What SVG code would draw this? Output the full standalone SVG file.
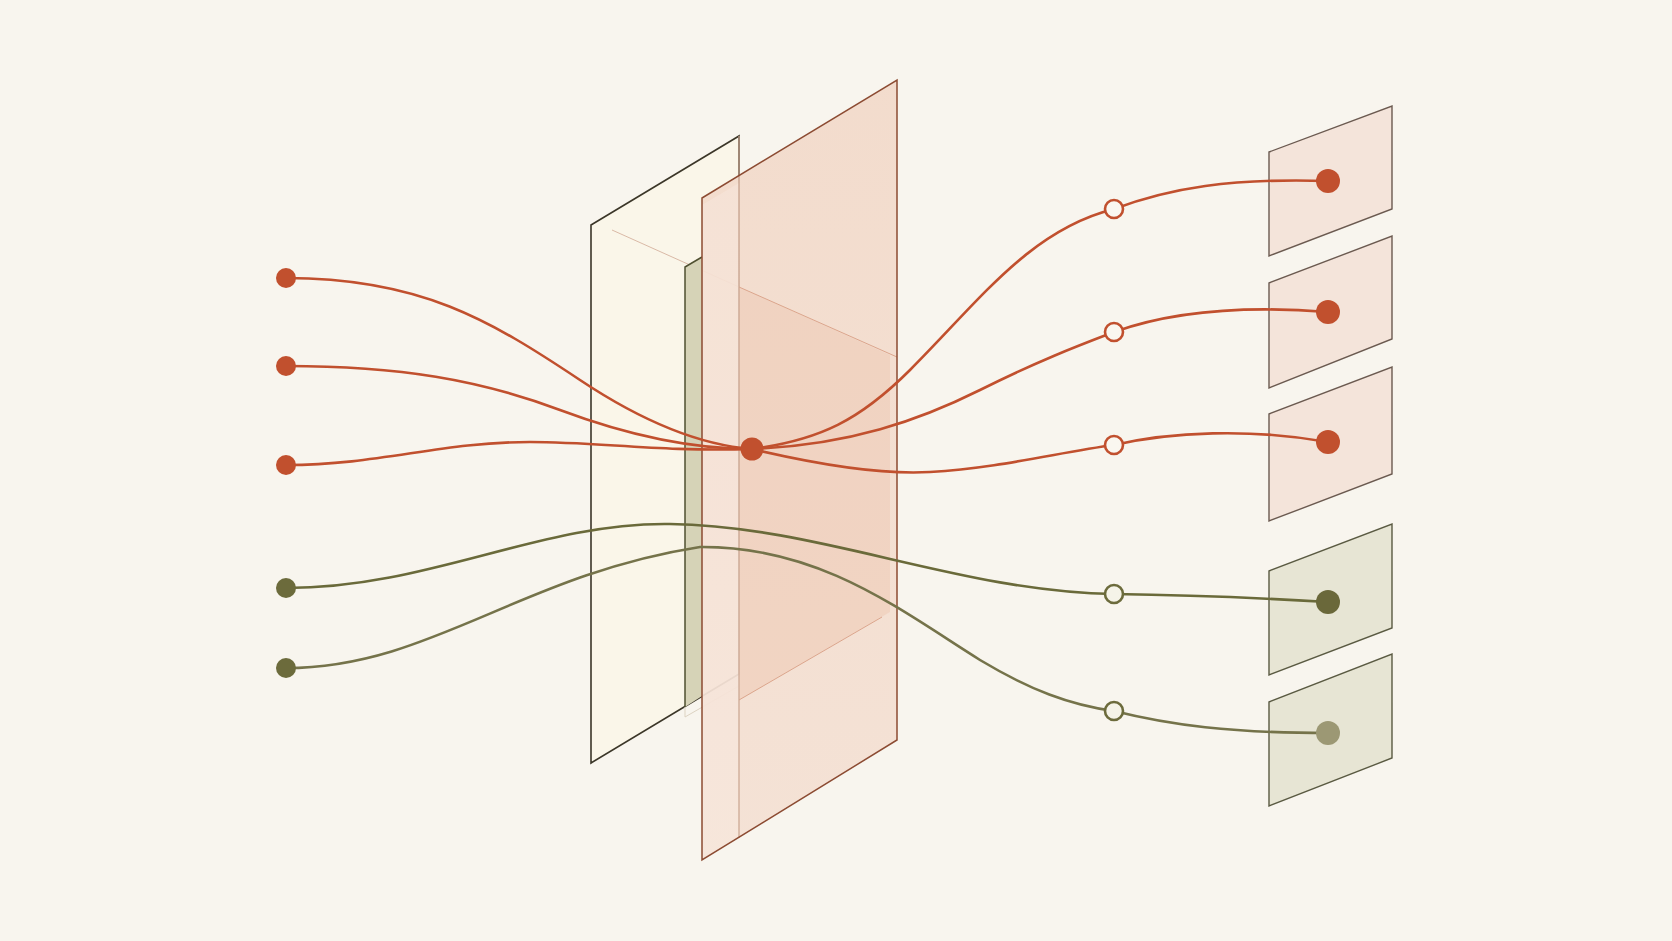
<svg xmlns="http://www.w3.org/2000/svg" width="1672" height="941" viewBox="0 0 1672 941">
<defs>
<style>
.bg{fill:#f8f5ee}
.red{fill:none;stroke:#c1502e;stroke-width:2.6;stroke-linecap:round}
.olv{fill:none;stroke:#6a6a3a;stroke-width:2.6;stroke-linecap:round}
.olv2{fill:none;stroke:#75734a;stroke-width:2.6;stroke-linecap:round}
.dotr{fill:#c1502e}
.doto{fill:#6c6b3c}
.hollr{fill:#faf7f0;stroke:#c1502e;stroke-width:2.6}
.hollo{fill:#f5f3e8;stroke:#6c6b3c;stroke-width:2.6}
.pr{fill:#f4e4da;stroke:#6b5a50;stroke-width:1.4}
.pg{fill:#e7e5d4;stroke:#5a5a42;stroke-width:1.4}
</style>
<linearGradient id="pinkg" x1="0" y1="0" x2="0" y2="1">
<stop offset="0" stop-color="#f2d9c9"/>
<stop offset="1" stop-color="#f4e0d3"/>
</linearGradient>
</defs>
<rect class="bg" x="0" y="0" width="1672" height="941"/>

<g id="layer-back">
<polygon points="591,225 739,136 739,674 591,763" fill="#faf6e9" stroke="#3b3628" stroke-width="1.6"/>
<line x1="612" y1="230" x2="739" y2="287" stroke="#d9b9a6" stroke-width="1"/>
</g>

<g id="layer-mid">
<polygon points="685,267 702,257 702,696 685,707" fill="#d6d3b7"/>
<polyline points="685,707 685,267 702,257" fill="none" stroke="#4f5030" stroke-width="1.5"/>
<polyline points="685,707 685,717 739,686" fill="none" stroke="#ddd3c2" stroke-width="1"/>
</g>

<g id="layer-front">
<polygon points="702,198 897,80 897,740 702,860" fill="url(#pinkg)" fill-opacity="0.9"/>
<polygon points="702,205 739,183 739,838 702,858" fill="#fbf0e8" fill-opacity="0.3"/>
<polygon points="739,287 890,355 890,612 739,700" fill="#efcbb7" fill-opacity="0.6"/>
<line x1="739" y1="287" x2="897" y2="357" stroke="#dba58c" stroke-width="1"/>
<line x1="739" y1="700" x2="882" y2="617" stroke="#dba58c" stroke-width="1"/>
<line x1="739" y1="136" x2="739" y2="838" stroke="#c9a38e" stroke-width="1.2"/>
<polygon points="702,198 897,80 897,740 702,860" fill="none" stroke="#8c4b32" stroke-width="1.5"/>
</g>

<g id="out-1"><polygon class="pr" points="1269,152 1392,106 1392,209 1269,256"/></g>
<g id="out-2"><polygon class="pr" points="1269,283 1392,236 1392,339 1269,388"/></g>
<g id="out-3"><polygon class="pr" points="1269,414 1392,367 1392,474 1269,521"/></g>
<g id="out-4"><polygon class="pg" points="1269,571 1392,524 1392,628 1269,675"/></g>
<g id="out-5"><polygon class="pg" points="1269,702 1392,654 1392,758 1269,806"/></g>

<g id="connectors">
<path class="red" d="M286,278 C420,278 490,320 580,380 C640,420 700,445 752,449"/>
<path class="red" d="M286,366 C400,366 480,380 560,410 C640,440 700,449 752,449"/>
<path class="red" d="M286,465 C380,465 440,442 530,442 C600,442 660,452 752,449"/>
<path class="red" d="M752,449 C820,440 860,420 910,370 C980,300 1030,230 1114,209"/>
<path class="red" d="M752,449 C850,445 920,420 980,390 C1040,360 1080,345 1114,332"/>
<path class="red" d="M752,449 C820,465 880,475 930,472 C1000,468 1060,452 1114,445"/>
<path class="red" d="M1114,209 C1170,188 1230,178 1328,181"/>
<path class="red" d="M1114,332 C1170,312 1240,305 1328,312"/>
<path class="red" d="M1114,445 C1170,432 1250,428 1328,442"/>
<path class="olv" d="M286,588 C430,588 540,522 670,524 C820,526 960,592 1114,594"/>
<path class="olv2" d="M286,668 C430,668 520,575 700,547 C820,546 900,610 980,660 C1030,690 1070,705 1114,711"/>
<path class="olv" d="M1114,594 C1200,595 1260,598 1328,602"/>
<path class="olv2" d="M1114,711 C1170,725 1230,733 1328,733"/>
</g>

<g id="in-1"><circle class="dotr" cx="286" cy="278" r="10"/></g>
<g id="in-2"><circle class="dotr" cx="286" cy="366" r="10"/></g>
<g id="in-3"><circle class="dotr" cx="286" cy="465" r="10"/></g>
<g id="in-4"><circle class="doto" cx="286" cy="588" r="10"/></g>
<g id="in-5"><circle class="doto" cx="286" cy="668" r="10"/></g>
<g id="hub"><circle class="dotr" cx="752" cy="449" r="11.5"/></g>
<g id="via-1"><circle class="hollr" cx="1114" cy="209" r="9"/></g>
<g id="via-2"><circle class="hollr" cx="1114" cy="332" r="9"/></g>
<g id="via-3"><circle class="hollr" cx="1114" cy="445" r="9"/></g>
<g id="via-4"><circle class="hollo" cx="1114" cy="594" r="9"/></g>
<g id="via-5"><circle class="hollo" cx="1114" cy="711" r="9"/></g>
<g id="end-1"><circle class="dotr" cx="1328" cy="181" r="12"/></g>
<g id="end-2"><circle class="dotr" cx="1328" cy="312" r="12"/></g>
<g id="end-3"><circle class="dotr" cx="1328" cy="442" r="12"/></g>
<g id="end-4"><circle fill="#6a683a" cx="1328" cy="602" r="12"/></g>
<g id="end-5"><circle fill="#9c9874" cx="1328" cy="733" r="12"/></g>
</svg>
